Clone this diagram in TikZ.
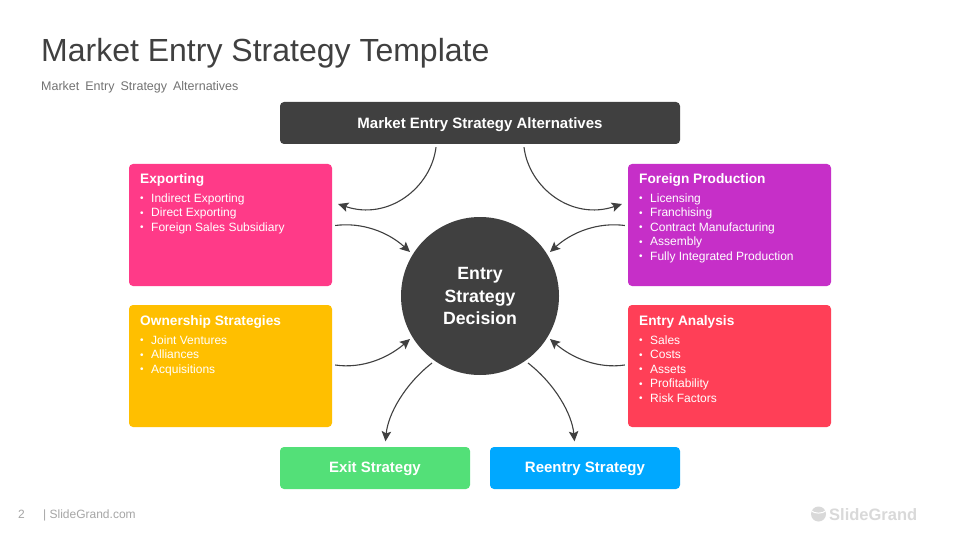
\documentclass[tikz,border=0pt]{standalone}
\usepackage{fontspec}
\setmainfont{Liberation Sans}
\usetikzlibrary{arrows.meta,calc}
\definecolor{dark}{HTML}{404040}
\definecolor{cpink}{HTML}{FF3A88}
\definecolor{cpurple}{HTML}{C62FC8}
\definecolor{cyellow}{HTML}{FFBF00}
\definecolor{cred}{HTML}{FF3F57}
\definecolor{cgreen}{HTML}{53E078}
\definecolor{cblue}{HTML}{00A8FF}
\newcommand{\itm}{\makebox[11pt][l]{\raisebox{0.5pt}{\fontsize{10}{10}\selectfont •}}}
\tikzset{
  panel/.style={draw=none,fill=#1,rounded corners=4pt,inner sep=0pt,minimum width=203pt,minimum height=122pt},
  bar/.style={draw=none,fill=#1,rounded corners=4pt,inner sep=0pt,minimum width=190pt,minimum height=42pt,text=white,text height=9pt,text depth=0pt,font=\bfseries\fontsize{15}{17}\selectfont},
  heading/.style={anchor=base west,inner sep=0pt,text=white,font=\bfseries\fontsize{13.7}{16}\selectfont},
  items/.style={anchor=north west,inner sep=0pt,text=white,align=left,font=\fontsize{12}{14.5}\selectfont},
  conn/.style={draw=dark,line width=1.1pt,-{Stealth[length=10pt,width=9.5pt,inset=2pt]}}
}
\begin{document}
\begin{tikzpicture}[x=1pt,y=-1pt]
\useasboundingbox (0,0) rectangle (960,540);
\fill[white] (0,0) rectangle (960,540);
% title block
\node[anchor=base west,inner sep=0pt,text=dark,font=\fontsize{32}{36}\selectfont] (title) at (41,62) {Market Entry Strategy Template};
\node[anchor=base west,inner sep=0pt,text=black!55,font=\fontsize{12.5}{14}\selectfont,execute at begin node={\spaceskip=6pt}] (subtitle) at (41,91) {Market Entry Strategy Alternatives};
% main shapes
\node[bar=dark,minimum width=400pt,text height=11.5pt] (top) at (480,123) {Market Entry Strategy Alternatives};
\node[panel=cpink] (exporting) at (230.5,225) {};
\node[panel=cpurple] (foreign) at (729.5,225) {};
\node[panel=cyellow] (ownership) at (230.5,366) {};
\node[panel=cred] (analysis) at (729.5,366) {};
\node[bar=cgreen] (exit) at (375,468) {Exit Strategy};
\node[bar=cblue] (reentry) at (585,468) {Reentry Strategy};
\node[circle,fill=dark,draw=none,minimum size=158pt,inner sep=0pt,text=white,align=center,font=\bfseries\fontsize{17.7}{22.5}\selectfont] (decision) at (480,296) {Entry\\Strategy\\Decision};
% panel text
\node[heading] (h1) at (140,183.5) {Exporting};
\node[items] (l1) at (140,193.5) {\itm Indirect Exporting\\\itm Direct Exporting\\\itm Foreign Sales Subsidiary};
\node[heading] (h2) at (639,183.5) {Foreign Production};
\node[items] (l2) at (639,193.5) {\itm Licensing\\\itm Franchising\\\itm Contract Manufacturing\\\itm Assembly\\\itm Fully Integrated Production};
\node[heading] (h3) at (140,325) {Ownership Strategies};
\node[items] (l3) at (140,335.5) {\itm Joint Ventures\\\itm Alliances\\\itm Acquisitions};
\node[heading] (h4) at (639,325) {Entry Analysis};
\node[items] (l4) at (639,335.5) {\itm Sales\\\itm Costs\\\itm Assets\\\itm Profitability\\\itm Risk Factors};
% connectors
\draw[conn] ($(top.south)+(-44,3)$) .. controls (431,188) and (388,221) .. ($(exporting.east)+(6,-21)$);
\draw[conn] ($(top.south)+(44,3)$) .. controls (529,188) and (572,221) .. ($(foreign.west)+(-6,-21)$);
\draw[conn] ($(exporting.east)+(3,0.5)$) .. controls (362,222) and (388,232) .. ($(decision.center)+(-70,-44)$);
\draw[conn] ($(foreign.west)+(-3,0.5)$) .. controls (598,222) and (572,232) .. ($(decision.center)+(70,-44)$);
\draw[conn] ($(ownership.east)+(3,-1)$) .. controls (362,369) and (388,358) .. ($(decision.center)+(-70,43)$);
\draw[conn] ($(analysis.west)+(-3,-1)$) .. controls (598,369) and (572,358) .. ($(decision.center)+(70,43)$);
\draw[conn] ($(decision.center)+(-48,67)$) .. controls (405,384) and (388,414) .. ($(exit.north)+(10.5,-5.5)$);
\draw[conn] ($(decision.center)+(48,67)$) .. controls (555,384) and (572,414) .. ($(reentry.north)+(-10.5,-5.5)$);
% footer
\node[anchor=base west,inner sep=0pt,text=black!35,font=\fontsize{12}{14}\selectfont] (page) at (18,518) {2};
\node[anchor=base west,inner sep=0pt,text=black!35,font=\fontsize{12}{14}\selectfont] (site) at (43,518) {| SlideGrand.com};
\fill[black!15] (818.5,514) circle (7.5);
\draw[white,line width=1pt] (811,510.5) .. controls (814,514) and (823,514) .. (826,510.5);
\node[anchor=base west,inner sep=0pt,text=black!15,font=\bfseries\fontsize{16.5}{18}\selectfont] (logo) at (829,520) {SlideGrand};
\end{tikzpicture}
\end{document}
